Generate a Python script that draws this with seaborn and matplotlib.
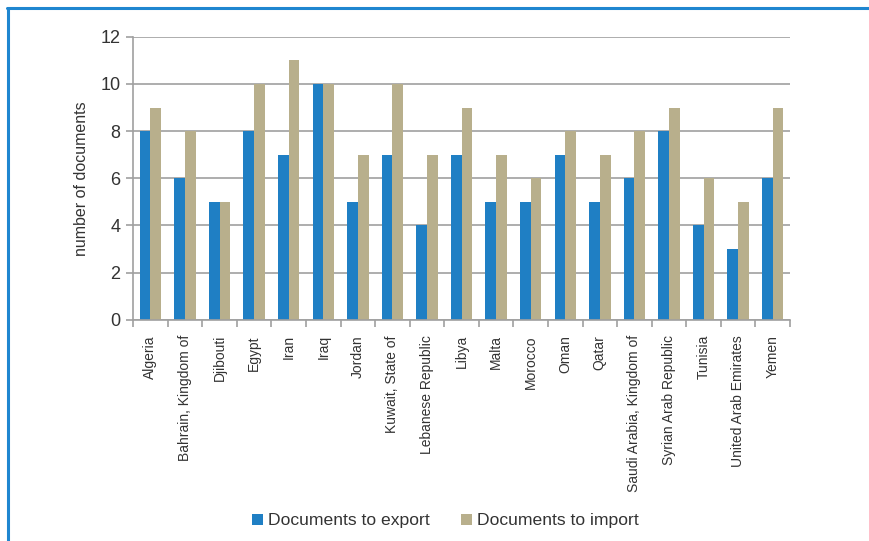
import matplotlib
matplotlib.use("Agg")
import matplotlib.pyplot as plt
from matplotlib.lines import Line2D
from matplotlib.patches import Patch
import seaborn as sns
import pandas as pd
import numpy as np

countries = ["Algeria", "Bahrain, Kingdom of", "Djibouti", "Egypt", "Iran", "Iraq",
             "Jordan", "Kuwait, State of", "Lebanese Republic", "Libya", "Malta",
             "Morocco", "Oman", "Qatar", "Saudi Arabia, Kingdom of",
             "Syrian Arab Republic", "Tunisia", "United Arab Emirates", "Yemen"]
export_docs = [8, 6, 5, 8, 7, 10, 5, 7, 4, 7, 5, 5, 7, 5, 6, 8, 4, 3, 6]
import_docs = [9, 8, 5, 10, 11, 10, 7, 10, 7, 9, 7, 6, 8, 7, 8, 9, 6, 5, 9]
series = ["Documents to export", "Documents to import"]
colors = ["#1F7FC4", "#B8AF8C"]

df = pd.DataFrame({
    "country": countries * 2,
    "value": export_docs + import_docs,
    "series": [series[0]] * len(countries) + [series[1]] * len(countries),
})

sns.set_theme(style="white")
plt.rcParams['font.family'] = ['Liberation Sans', 'DejaVu Sans']

fig = plt.figure(figsize=(8.7, 5.41), dpi=100)
ax = fig.add_axes([0.153, 0.409, 0.755, 0.523])

sns.barplot(data=df, x="country", y="value", hue="series", palette=colors,
            width=0.62, gap=0, saturation=1, ax=ax, legend=False,
            edgecolor="none", linewidth=0)

ax.set_ylim(0, 12)
ax.set_xlim(-0.5, len(countries) - 0.5)
ax.set_yticks(range(0, 13, 2))
ax.yaxis.grid(True, color="#A0A0A0", linewidth=1.2)
ax.set_axisbelow(True)
for s in ["top", "right"]:
    ax.spines[s].set_visible(False)
ax.spines["left"].set_color("#A0A0A0")
ax.spines["bottom"].set_color("#A0A0A0")
ax.spines["left"].set_linewidth(1.2)
ax.spines["bottom"].set_linewidth(1.2)

ax.tick_params(axis="y", which="major", left=True, length=5, width=1.2,
               color="#A0A0A0", labelsize=13, labelcolor="#333333", pad=4)
ax.set_xticks(range(len(countries)))
ax.set_xticklabels(countries, rotation=90, fontsize=10, color="#333333")
ax.tick_params(axis="x", which="major", bottom=False, pad=5)
ax.set_xticks(np.arange(-0.5, len(countries), 1.0), minor=True)
ax.tick_params(axis="x", which="minor", bottom=True, length=5, width=1.2,
               color="#A0A0A0")
ax.set_xlabel("")
ax.set_ylabel("number of documents", fontsize=11.5, color="#333333", labelpad=8)

handles = [Patch(facecolor=c, edgecolor="none") for c in colors]
fig.legend(handles, series, loc="center", bbox_to_anchor=(0.512, 0.037), ncol=2,
           frameon=False, fontsize=12.6, handlelength=0.6, handleheight=0.6,
           handletextpad=0.3, columnspacing=1.8, labelcolor="#333333")

fig.add_artist(Line2D([7.5 / 870, 1.0], [1 - 8 / 541, 1 - 8 / 541],
                      transform=fig.transFigure, color="#1F86D0", linewidth=2.2))
fig.add_artist(Line2D([8 / 870, 8 / 870], [1 - 8 / 541, 0.0],
                      transform=fig.transFigure, color="#1F86D0", linewidth=2.2))

fig.savefig("out.png", dpi=100, facecolor="white")
